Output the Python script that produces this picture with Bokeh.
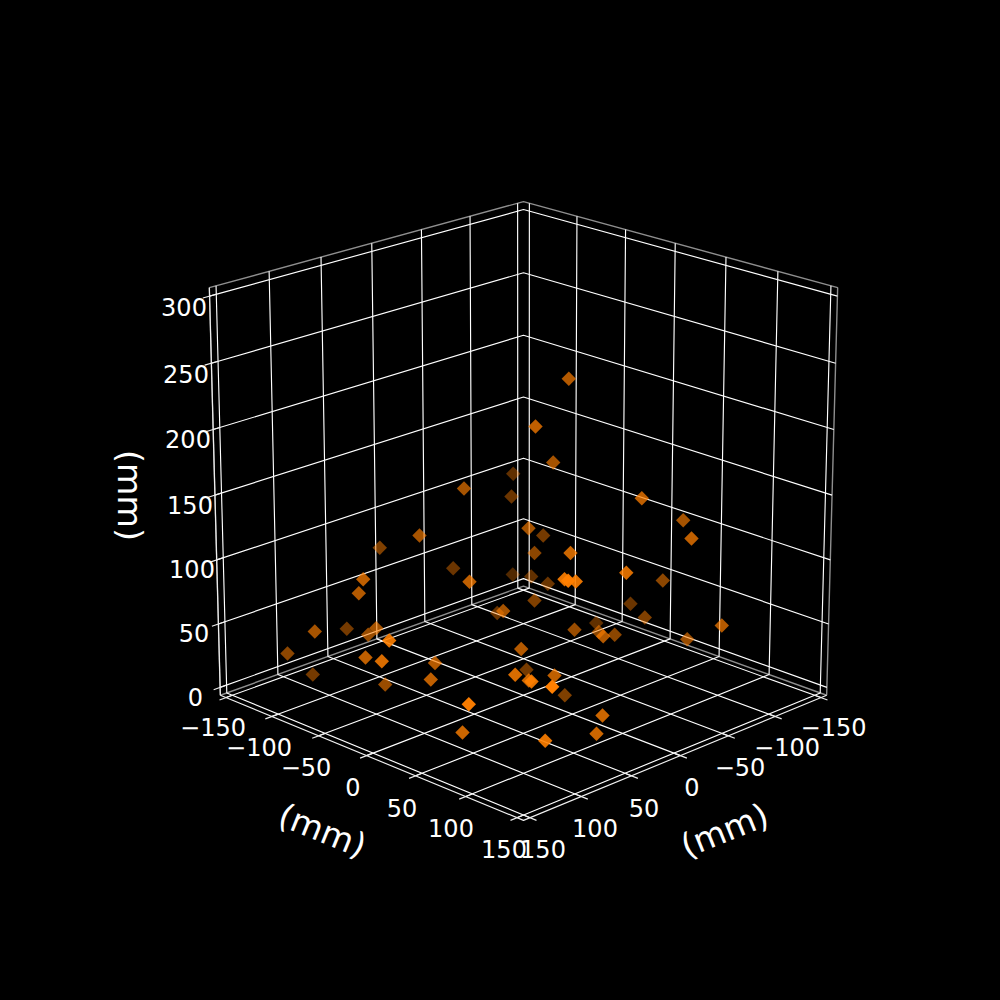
import math
from bokeh.plotting import figure
from bokeh.models import ColumnDataSource, Range1d
from bokeh.core.properties import value
from bokeh.embed import file_html
from bokeh.resources import INLINE

# Data
tick_xy = [-150, -100, -50, 0, 50, 100, 150]
tick_z = [0, 50, 100, 150, 200, 250, 300]
xy_labels = ["\u2212150", "\u2212100", "\u221250", "0", "50", "100", "150"]
z_labels = ["0", "50", "100", "150", "200", "250", "300"]
axis_label = "(mm)"

point_h = [568.3, 535, 552.7, 512.7, 511, 641.3, 682.7, 691, 528, 542.7, 534, 570, 625.8, 662.3, 512.3, 530.7,
           547.3, 564, 567.7, 575.3, 534, 630, 644.3, 721.3, 686.7, 595.7, 598.3, 602.7, 614.2, 574, 496.7, 502.7,
           520.7, 434.5, 430.3, 514.7, 526, 528.3, 531, 554, 551.7, 564.3, 468.3, 602, 596, 544.7, 462,
           379.3, 362.7, 358.3, 314.3, 346.3, 375.7, 367.7, 388.7, 287, 365, 381.3, 312.3, 384.7, 419, 463.5,
           452.7, 469]
point_v = [378.3, 426, 462, 473.3, 496, 497.7, 519.7, 538, 527.7, 535, 552.5, 552.5, 572.3, 580, 574, 576,
           583.3, 578.7, 580.3, 581, 600, 603.3, 617, 625, 638.7, 622.5, 631.5, 635.8, 634.3, 629.3, 612.5, 610.5,
           648.5, 662.5, 679, 674.3, 669.3, 680, 681, 675, 686.3, 694.7, 703.7, 715, 733.3, 740.3, 732,
           547.3, 578.7, 592.7, 631, 628.3, 627.7, 634.3, 640, 653, 657, 660.7, 674, 684, 535, 488,
           567.7, 581.3]
point_shade = [.7, .75, .65, .38, .42, .75, .65, .75, .65, .46, .55, .8, .85, .55, .32, .38,
               .42, .9, .97, .9, .5, .42, .5, .7, .6, .38, .55, .7, .55, .6, .42, .65,
               .7, .7, .75, .85, .46, .8, .9, .75, 1, .5, .97, .8, .8, .9, .8,
               .5, .75, .7, .65, .46, .65, .6, .9, .55, .75, .85, .46, .6, .65, .65,
               .42, .75]

# Perspective view of the box (elevation 20, azimuth 45, distance 10)
ELEV, AZIM, DIST = math.radians(20), math.radians(45), 10.0
SX, SY, CX, CY = 775 / 0.185, 770 / 0.185, 523.0, 494.6
LO, HI, ZLO, ZHI = -156.25, 156.25, -6.25, 306.25


def project(x, y, z):
    dx, dy, dz = x / 300.0, y / 300.0, (z - 150.0) / 300.0
    se, ce, sa, ca = math.sin(ELEV), math.cos(ELEV), math.sin(AZIM), math.cos(AZIM)
    u = -sa * dx + ca * dy
    v = -se * ca * dx - se * sa * dy + ce * dz
    w = ce * ca * dx + ce * sa * dy + se * dz
    return CX + SX * u / (DIST - w), CY - SY * v / (DIST - w)


def path(points):
    pts = [project(*q) for q in points]
    return [q[0] for q in pts], [q[1] for q in pts]


p = figure(width=1000, height=1000, x_range=Range1d(0, 1000), y_range=Range1d(1000, 0),
           output_backend="svg", toolbar_location=None, background_fill_color="#000000",
           border_fill_color="#000000", outline_line_color=None, min_border=0,
           x_axis_location=None, y_axis_location=None)
p.grid.visible = False
p.styles = {"position": "fixed", "left": "0", "top": "0", "background-color": "#000000"}

# Pane edges (grey)
edge_color = "#8e8e8e"
for pts in [[(HI, LO, ZLO), (HI, LO, ZHI), (LO, LO, ZHI), (LO, HI, ZHI), (LO, HI, ZLO)],
            [(HI, LO, ZLO), (LO, LO, ZLO), (LO, HI, ZLO)]]:
    xs, ys = path(pts)
    p.line(xs, ys, line_color=edge_color, line_width=1.4)

# Grid lines
gx, gy = [], []
for t in tick_xy:
    a, b = path([(t, HI, ZLO), (t, LO, ZLO), (t, LO, ZHI)])
    gx.append(a); gy.append(b)
    a, b = path([(HI, t, ZLO), (LO, t, ZLO), (LO, t, ZHI)])
    gx.append(a); gy.append(b)
for t in tick_z:
    a, b = path([(HI, LO, t), (LO, LO, t), (LO, HI, t)])
    gx.append(a); gy.append(b)
p.multi_line(gx, gy, line_color="#ffffff", line_width=1.15)

# Axis lines and tick marks
ax, ay = [], []
for pts in [[(HI, LO, ZLO), (HI, HI, ZLO), (LO, HI, ZLO)], [(HI, LO, ZLO), (HI, LO, ZHI)]]:
    a, b = path(pts)
    ax.append(a); ay.append(b)
for t in tick_xy:
    a, b = path([(150, t, ZLO), (162.5, t, ZLO)])
    ax.append(a); ay.append(b)
    a, b = path([(t, 150, ZLO), (t, 162.5, ZLO)])
    ax.append(a); ay.append(b)
for t in tick_z:
    a, b = path([(150, LO, t), (162.5, LO, t)])
    ax.append(a); ay.append(b)
p.multi_line(ax, ay, line_color="#f0f0f0", line_width=1.15)

# Points, far ones first
order = sorted(range(len(point_h)), key=lambda i: point_shade[i])
src = ColumnDataSource(dict(h=[point_h[i] for i in order], v=[point_v[i] for i in order],
                            a=[point_shade[i] for i in order]))
p.scatter("h", "v", source=src, marker="square", angle=math.pi / 4, size=10.2,
          fill_color="#ff7f00", fill_alpha="a", line_color=None)

# Tick labels
FONT = value("DejaVu Sans")
left_h = [212.5, 258.5, 305.5, 352.5, 401.5, 450.5, 503.5]
right_h = [833, 786.5, 739.5, 691.5, 643.5, 594.5, 542.5]
xy_v = [726.5, 746, 766, 786, 807, 827.5, 848.5]
z_h = [195, 193.5, 191.5, 189.5, 187.5, 185.5, 183.5]
z_v = [696, 632, 568, 504, 438, 373, 306]
for hs in (left_h, right_h):
    p.text(hs, xy_v, text=xy_labels, text_color="#ffffff", text_font=FONT, text_font_size="24px",
           text_align="center", text_baseline="middle")
p.text(z_h, z_v, text=z_labels, text_color="#ffffff", text_font=FONT, text_font_size="24px",
       text_align="center", text_baseline="middle")

# Axis labels
p.text([322, 724, 129], [830, 830, 495], text=[axis_label] * 3,
       angle=[math.radians(-22), math.radians(22), math.radians(-90)],
       text_color="#ffffff", text_font=FONT, text_font_size="33.3px",
       text_align="center", text_baseline="middle")

open("out.html", "w").write(file_html(p, INLINE))
